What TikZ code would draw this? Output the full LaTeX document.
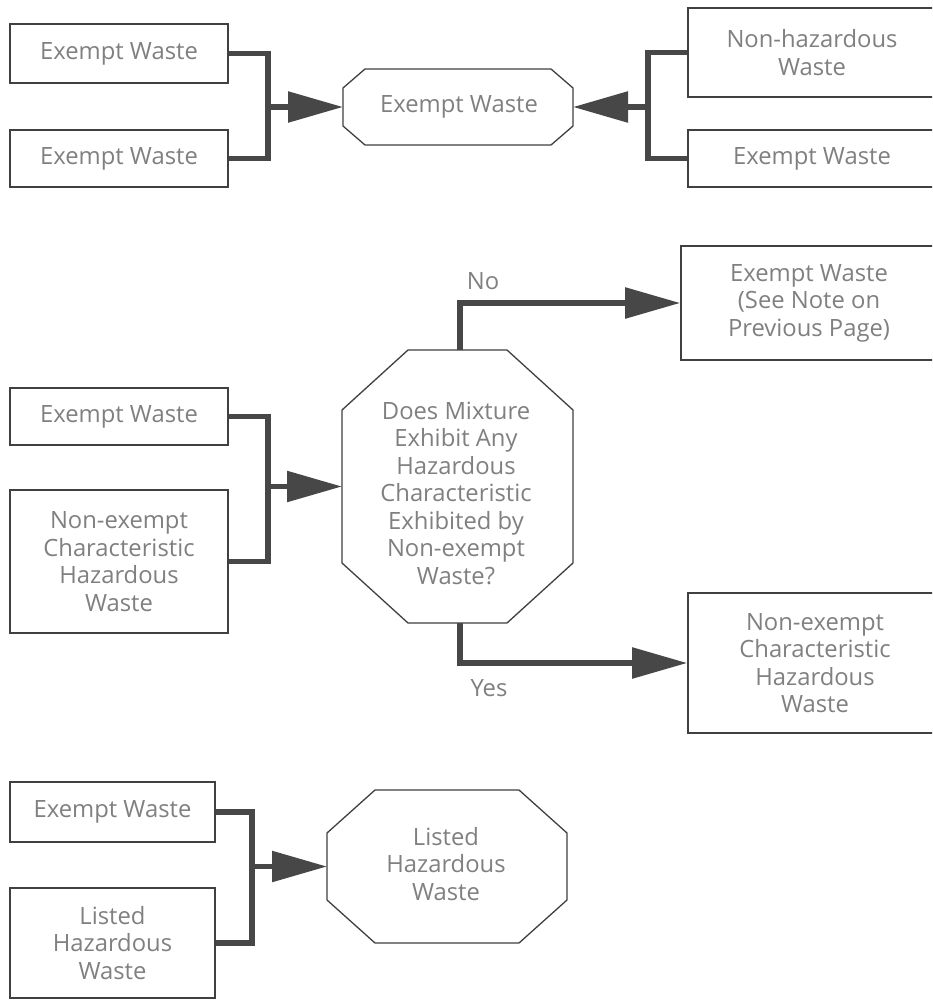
\documentclass[tikz,border=0pt]{standalone}
\usepackage{fontspec}
\setmainfont{Open Sans}
\usetikzlibrary{arrows.meta}
\begin{document}
\begin{tikzpicture}[x=1pt,y=-1pt,
  txt/.style={text=black!50, align=center, inner sep=0pt, font=\fontsize{23.8}{27.5}\selectfont},
  box/.style={txt, draw=black!75, line width=1.6pt},
  octo/.style={draw=black!75, line width=1.3pt},
  conn/.style={draw=black!72, line width=5.5pt},
  arr/.style={-{Triangle[length=55pt,width=30pt]}}]
\fill[white] (0,0) rectangle (932,1000);
\useasboundingbox (0,0) rectangle (932,1000);
\clip (0,0) rectangle (932,1000);

% ---- top section
\node[box, minimum width=218pt, minimum height=59pt] (a1) at (119,53.5) {Exempt Waste};
\node[box, minimum width=218pt, minimum height=57pt] (a2) at (119,158.5) {Exempt Waste};
\node[box, minimum width=248pt, minimum height=89pt] (r1) at (812,52.5) {Non-hazardous\\Waste};
\node[box, minimum width=248pt, minimum height=57pt] (r2) at (812,158.5) {Exempt Waste};
\draw[octo] (343,88) -- (365,69) -- (551,69) -- (573,88) -- (573,126) -- (551,145) -- (365,145) -- (343,126) -- cycle;
\node[txt] (o1) at (459,107) {Exempt Waste};
\coordinate (o1w) at (343,107);
\coordinate (o1e) at (573,107);
\coordinate (j1) at (268,107);
\coordinate (j2) at (648,107);
\draw[conn] (a1.east) -| (j1) |- (a2.east);
\draw[conn,arr] (j1) -- (o1w);
\draw[conn] (r1.west) -| (j2) |- (r2.west);
\draw[conn,arr] (j2) -- (o1e);

% ---- middle section
\node[box, minimum width=218pt, minimum height=57pt] (b1) at (119,416.5) {Exempt Waste};
\node[box, minimum width=218pt, minimum height=143pt] (b2) at (119,561.5) {Non-exempt\\Characteristic\\Hazardous\\Waste};
\node[box, minimum width=256pt, minimum height=114pt] (note) at (809,303) {Exempt Waste\\(See Note on\\Previous Page)};
\node[box, minimum width=254pt, minimum height=140pt] (nd) at (815,663) {Non-exempt\\Characteristic\\Hazardous\\Waste};
\draw[octo] (342,410) -- (408,350) -- (507,350) -- (573,410) -- (573,563) -- (507,623) -- (408,623) -- (342,563) -- cycle;
\node[txt] (o2) at (456,493) {Does Mixture\\Exhibit Any\\Hazardous\\Characteristic\\Exhibited by\\Non-exempt\\Waste?};
\coordinate (o2w) at (342,486.5);
\coordinate (o2n) at (460,350);
\coordinate (o2s) at (460,623);
\coordinate (j3) at (268,486.5);
\draw[conn] (b1.east) -| (j3) |- (b2.east);
\draw[conn,arr] (j3) -- (o2w);
\draw[conn,arr] (o2n) |- (note.west);
\draw[conn,arr] (o2s) |- (nd.west);
\node[txt] (no) at (483,281) {No};
\node[txt] (yes) at (489,688) {Yes};

% ---- bottom section
\node[box, minimum width=205pt, minimum height=60pt] (c1) at (112.5,812) {Exempt Waste};
\node[box, minimum width=205pt, minimum height=110pt] (c2) at (112.5,943) {Listed\\Hazardous\\Waste};
\draw[octo] (327,833) -- (375,790) -- (519,790) -- (567,833) -- (567,900) -- (519,943) -- (375,943) -- (327,900) -- cycle;
\node[txt] (o3) at (446,864) {Listed\\Hazardous\\Waste};
\coordinate (o3w) at (327,866.5);
\coordinate (j4) at (252,866.5);
\draw[conn] (c1.east) -| (j4) |- (c2.east);
\draw[conn,arr] (j4) -- (o3w);
\end{tikzpicture}
\end{document}
